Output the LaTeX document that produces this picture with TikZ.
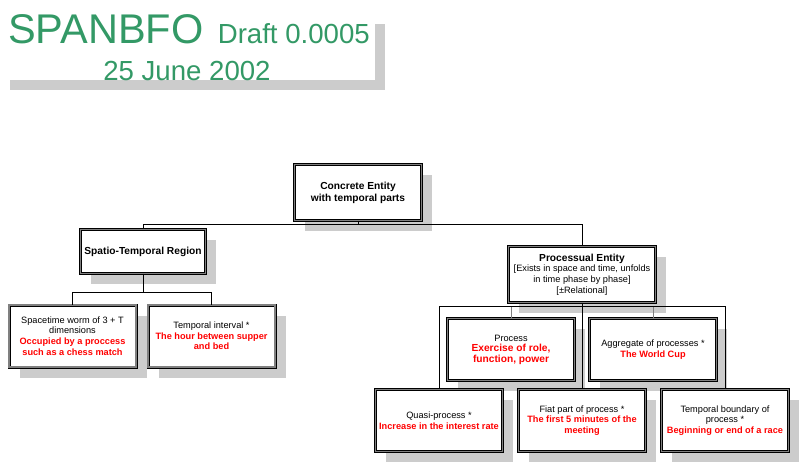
\documentclass[tikz,border=0pt]{standalone}
\usepackage{fontspec}
\setmainfont{Liberation Sans}
\usepackage{xcolor}
\usetikzlibrary{shapes.geometric, arrows, positioning, shadows, calc}
\definecolor{titlegreen}{RGB}{51, 153, 102}
\definecolor{examplered}{RGB}{255, 0, 0}
\definecolor{shadowgray}{RGB}{204, 204, 204}
\definecolor{bordergray}{RGB}{128, 128, 128}
\newcommand{\headfont}{\fontsize{10.2}{12}\selectfont\bfseries}
\newcommand{\instance}[1]{\textcolor{examplered}{\bfseries #1}}
\newcommand{\biginstance}[1]{\textcolor{examplered}{\fontsize{10.2}{11.5}\selectfont\bfseries #1}}
\tikzstyle{entity} = [rectangle, draw=black, double=bordergray, double distance=1.3pt, line width=0.85pt, fill=white, minimum width=127pt, minimum height=62pt, text centered, align=center, font=\fontsize{9.2}{10.6}\selectfont, drop shadow={shadow xshift=10.5pt, shadow yshift=-10.5pt, fill=shadowgray, opacity=1}]
\tikzstyle{header} = [font=\headfont]
\tikzstyle{titlebox} = [rectangle, fill=white, minimum width=375pt, minimum height=66pt, drop shadow={shadow xshift=10pt, shadow yshift=-10pt, fill=shadowgray, opacity=1}]
\tikzstyle{titletext} = [anchor=base west, inner sep=0pt, text=titlegreen]
\tikzstyle{link} = [line width=0.8pt, black]
\tikzstyle{stub} = [line width=0.8pt, gray]

\begin{document}
\begin{tikzpicture}[x=1pt, y=-1pt, node distance=143pt]
\useasboundingbox (0,0) rectangle (801,464);

% Title block
\node (titleback) [titlebox] at (187.5,47) {};
\node (name) [titletext, font=\fontsize{41.5}{41.5}\selectfont] at (8,43) {SPANBFO};
\node (draft) [titletext, font=\fontsize{27.6}{27.6}\selectfont] at ([xshift=14pt]name.base east) {Draft 0.0005};
\node (date) [titletext, anchor=base, font=\fontsize{27.6}{27.6}\selectfont] at (187,80) {25 June 2002};

% Top level
\node (concrete) [entity, header, minimum height=55.5pt] at (358,192.5) {Concrete Entity\\with temporal parts};

% Spatio-temporal branch
\node (spatio) [entity, header, minimum width=125.5pt, minimum height=43.5pt] at (143,251.5) {Spatio-Temporal Region};
\node (worm) [entity] at (72.5,336) {Spacetime worm of 3 + T\\dimensions\\\instance{Occupied by a proccess}\\\instance{such as a chess match}};
\node (interval) [entity, right of=worm, node distance=139pt] {Temporal interval *\\\instance{The hour between supper}\\\instance{and bed}};

% Processual branch
\node (processual) [entity, minimum width=146.5pt, minimum height=55.5pt] at (582,274.5) {{\headfont Processual Entity}\\{}[Exists in space and time, unfolds\\in time phase by phase]\\{}[±Relational]};
\node (process) [entity] at (511,349.5) {Process\\\biginstance{Exercise of role,}\\\biginstance{function, power}};
\node (aggregate) [entity, right of=process, node distance=142pt] {Aggregate of processes *\\\instance{The World Cup}};
\node (fiat) [entity, below of=processual, node distance=146pt] {Fiat part of process *\\\instance{The first 5 minutes of the}\\\instance{meeting}};
\node (quasi) [entity, left of=fiat] {Quasi-process *\\\instance{Increase in the interest rate}};
\node (boundary) [entity, right of=fiat] {Temporal boundary of\\process *\\\instance{Beginning or end of a race}};

% Connectors
\coordinate (topbus) at ([yshift=-4pt]concrete.south);
\coordinate (spatiobus) at ([yshift=-19pt]spatio.south);
\coordinate (procbus) at ([yshift=-4pt]processual.south);

\draw [link] (concrete.south) -- (topbus);
\draw [link] (topbus) -| (spatio.north);
\draw [link] (topbus) -| (processual.north);

\draw [link] (spatio.south) -- (spatiobus);
\draw [link] (spatiobus) -| (worm.north);
\draw [link] (spatiobus) -| (interval.north);

\draw [stub] (process.north) -- (process.north |- procbus);
\draw [stub] (aggregate.north) -- (aggregate.north |- procbus);
\draw [link] (processual.south) -- (fiat.north);
\draw [link] (procbus) -| (quasi.north);
\draw [link] (procbus) -| (boundary.north);

\end{tikzpicture}
\end{document}
